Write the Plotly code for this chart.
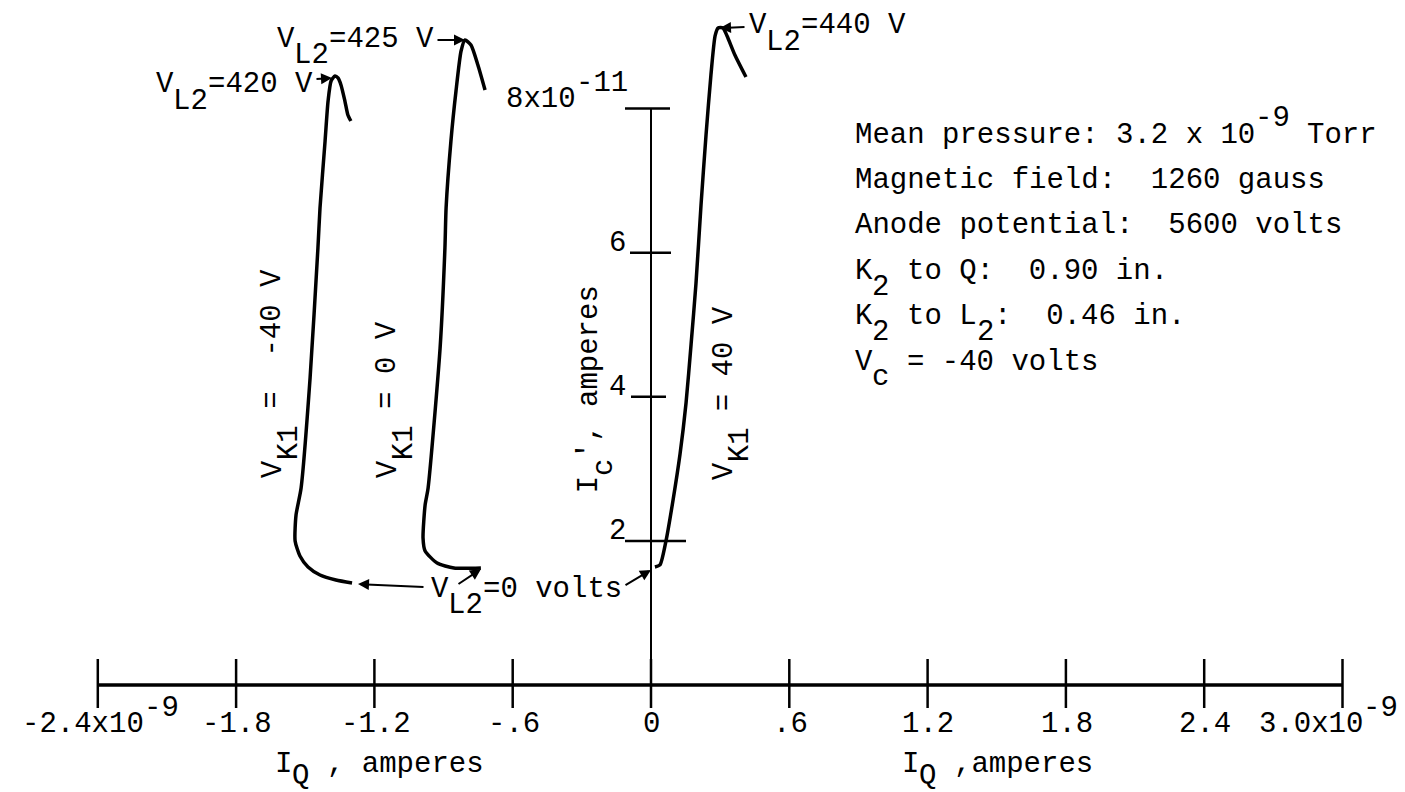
import plotly.graph_objects as go

W, H = 1405, 792

# I_Q in units of 1e-9 A, I_C in units of 1e-11 A
vk1_neg40_iq = [-1.297, -1.367, -1.436, -1.488, -1.523, -1.544, -1.540, -1.518, -1.479, -1.445,
                -1.436, -1.414, -1.401, -1.388, -1.371, -1.358, -1.345, -1.328, -1.315, -1.302]
vk1_neg40_ic = [1.416, 1.457, 1.527, 1.638, 1.790, 1.999, 2.359, 2.734, 4.261, 6.065,
                6.620, 7.550, 8.105, 8.383, 8.453, 8.425, 8.328, 8.105, 7.911, 7.828]

vk1_0_iq = [-0.738, -0.855, -0.928, -0.980, -0.989, -0.980, -0.967, -0.915, -0.894,
            -0.889, -0.868, -0.846, -0.824, -0.807, -0.781, -0.751, -0.720]
vk1_0_ic = [1.624, 1.624, 1.693, 1.860, 2.040, 2.498, 2.734, 4.677, 6.065,
            6.620, 7.550, 8.244, 8.799, 8.952, 8.883, 8.605, 8.258]

vk1_pos40_iq = [0.017, 0.039, 0.065, 0.095, 0.126, 0.152, 0.174, 0.195, 0.217,
                0.239, 0.260, 0.278, 0.291, 0.312, 0.330, 0.364, 0.412]
vk1_pos40_ic = [1.638, 1.666, 1.999, 2.554, 3.206, 3.914, 4.733, 5.566, 6.662,
                7.647, 8.466, 9.008, 9.119, 9.119, 9.008, 8.744, 8.439]

x_tick_vals = [-2.4, -1.8, -1.2, -0.6, 0.0, 0.6, 1.2, 1.8, 2.4, 3.0]
x_tick_labels = ["-2.4x10^{-9}", "-1.8", "-1.2", "-.6", "0", ".6", "1.2", "1.8", "2.4", "3.0x10^{-9}"]
y_tick_vals = [2, 4, 6, 8]
y_tick_labels = ["2", "4", "6", "8x10^{-11}"]

notes = [
    "Mean pressure: 3.2 x 10^{-9} Torr",
    "Magnetic field:  1260 gauss",
    "Anode potential:  5600 volts",
    "K_{2} to Q:  0.90 in.",
    "K_{2} to L_{2}:  0.46 in.",
    "V_{c} = -40 volts",
]
curve_labels = ["V_{K1} =  -40 V", "V_{K1} = 0 V", "V_{K1} = 40 V"]
y_title = "I_{c}\u2032, amperes"
x_titles = ["I_{Q} , amperes", "I_{Q} ,amperes"]
vl2_labels = ["V_{L2}=420 V", "V_{L2}=425 V", "V_{L2}=440 V", "V_{L2}=0 volts"]

# ---------------- layout helpers ----------------
X0PX, XS, Y0PX, YS = 643.0, 230.5, 677.0, 72.05
xr = [-X0PX / XS, (W - X0PX) / XS]
yr = [(Y0PX - H) / YS, Y0PX / YS]
FS = 29
CH = 0.6 * FS  # monospace advance
FONT = dict(family="Liberation Mono, Courier New, monospace", size=FS, color="black")
NB = "\u00a0"
SHIFT = 16  # typewriter half-line shift for sub/superscripts


def px(x):
    return x / W


def py(y):
    return 1 - y / H


def segments(s, shift=SHIFT):
    segs, col, i = [], 0, 0
    while i < len(s):
        c = s[i]
        if c in "_^" and i + 1 < len(s) and s[i + 1] == "{":
            j = s.index("}", i)
            seg = s[i + 2:j]
            segs.append([col, seg, shift if c == "_" else -shift])
            col += len(seg)
            i = j + 1
        else:
            if segs and segs[-1][2] == 0 and segs[-1][0] + len(segs[-1][1]) == col:
                segs[-1][1] += c
            else:
                segs.append([col, c, 0])
            col += 1
            i += 1
    out = []
    for c0, t, off in segs:
        lead = len(t) - len(t.lstrip(" "))
        t2 = t.strip(" ")
        if t2:
            out.append((c0 + lead, t2.replace(" ", NB), off))
    return out, col


def typed(s, x, y, anchor="left", shift=SHIFT):
    """Typewriter text: full-size sub/superscripts shifted half a line; one annotation per run."""
    segs, n = segments(s, shift)
    if anchor == "center":
        x = x - n * CH / 2
    elif anchor == "right":
        x = x - n * CH
    return [dict(text=t, x=px(x + c0 * CH), xref="paper", y=py(y + off), yref="paper",
                 xanchor="left", yanchor="middle", showarrow=False, font=FONT, borderpad=0)
            for c0, t, off in segs]


def typed_up(s, xc, ybottom):
    """Text rotated 90 deg counter-clockwise, reading bottom to top."""
    segs, n = segments(s)
    return [dict(text=t, x=px(xc + off), xref="paper",
                 y=py(ybottom - (c0 + len(t) / 2) * CH), yref="paper",
                 xanchor="center", yanchor="middle", textangle=-90, showarrow=False,
                 font=FONT, borderpad=0)
            for c0, t, off in segs]


fig = go.Figure()
line = dict(color="black", width=3.5, shape="spline", smoothing=0.6)
for xs, ys in [(vk1_neg40_iq, vk1_neg40_ic), (vk1_0_iq, vk1_0_ic), (vk1_pos40_iq, vk1_pos40_ic)]:
    fig.add_trace(go.Scatter(x=xs, y=ys, mode="lines", line=line, hoverinfo="skip"))

# axis lines
fig.add_trace(go.Scatter(x=[x_tick_vals[0], x_tick_vals[-1]], y=[0, 0], mode="lines",
                         line=dict(color="black", width=3.5), hoverinfo="skip"))
fig.add_trace(go.Scatter(x=[0, 0], y=[(Y0PX - 700) / YS, y_tick_vals[-1]], mode="lines",
                         line=dict(color="black", width=2), hoverinfo="skip"))

shapes = []
for v in x_tick_vals:
    shapes.append(dict(type="line", xref="x", yref="paper", x0=v, x1=v, y0=py(700), y1=py(651),
                       line=dict(color="black", width=2.5)))
y_tick_extent = {2: (617, 678), 4: (623, 658), 6: (622, 663), 8: (617, 662)}
for v in y_tick_vals:
    a, b = y_tick_extent[v]
    shapes.append(dict(type="line", xref="paper", yref="y", x0=px(a), x1=px(b), y0=v, y1=v,
                       line=dict(color="black", width=2.5)))

ann = []
# x tick labels
LBL_Y = 716
for v, t in zip(x_tick_vals, x_tick_labels):
    if v == x_tick_vals[0]:
        ann += typed(t, 13, LBL_Y)
    elif v == x_tick_vals[-1]:
        ann += typed(t, 1250, LBL_Y)
    else:
        ann += typed(t, X0PX + v * XS, LBL_Y, anchor="center")
# y tick labels (just left of / above the tick marks)
for v, t in zip(y_tick_vals, y_tick_labels):
    ycen = Y0PX - v * YS - 9
    if v == 8:
        ann += typed(t, 497, ycen)
    else:
        ann += typed(t, 617, ycen, anchor="right")

# axis titles
ann += typed(x_titles[0], 266, 756, shift=12)
ann += typed(x_titles[1], 893, 756, shift=12)
ann += typed_up(y_title, 581, 486)

# curve labels (rotated)
for (xx, yb), t in zip([(265, 470), (380, 470), (716, 472)], curve_labels):
    ann += typed_up(t, xx, yb)

# notes block
for i, t in enumerate(notes):
    ann += typed(t, 846, 127 + 45.4 * i)

# V_L2 labels
ann += typed(vl2_labels[0], 147, 77)
ann += typed(vl2_labels[1], 268, 31.5)
ann += typed(vl2_labels[2], 740, 18)
ann += typed(vl2_labels[3], 422, 581)

# arrows: (tip_x, tip_y, tail_x, tail_y) in page pixels
arrows = [(324, 70, 307, 71), (457, 32, 428, 32), (712, 20, 738, 19),
          (350, 576, 417, 579), (473, 561, 449, 577), (643, 562, 616, 578)]
for tx, ty, sx, sy in arrows:
    ann.append(dict(x=px(tx), y=py(ty), xref="paper", yref="paper", ax=sx - tx, ay=sy - ty,
                    text="", showarrow=True, arrowhead=2, arrowsize=1.1, arrowwidth=2,
                    arrowcolor="black", standoff=0, startstandoff=0))

fig.update_layout(
    width=W, height=H, margin=dict(l=0, r=0, t=0, b=0),
    paper_bgcolor="white", plot_bgcolor="white", showlegend=False,
    xaxis=dict(range=xr, visible=False, fixedrange=True),
    yaxis=dict(range=yr, visible=False, fixedrange=True),
    shapes=shapes, annotations=ann, font=FONT,
)

fig.write_html("out.html")
